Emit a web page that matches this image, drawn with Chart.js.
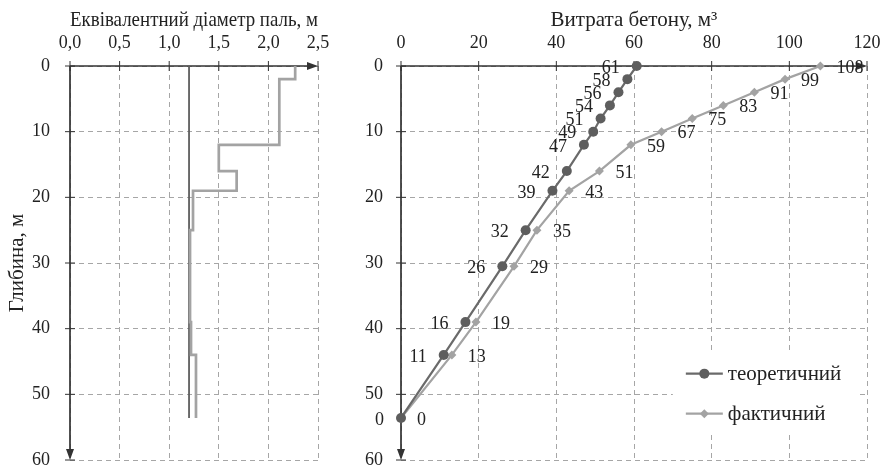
<!DOCTYPE html>
<html>
<head>
<meta charset="utf-8">
<script src="https://cdn.jsdelivr.net/npm/chart.js@4.4.1/dist/chart.umd.min.js"></script>
<style>
  body { margin: 0; background: #fff; }
  #wrap { position: relative; width: 885px; height: 466px; background: #fff; }
  .box { position: absolute; top: 0; height: 466px; }
</style>
</head>
<body>
<div id="wrap">
  <div class="box" style="left:0;width:345px"><canvas id="diamChart"></canvas></div>
  <div class="box" style="left:345px;width:540px"><canvas id="concreteChart"></canvas></div>
</div>
<script>
// left panel: equivalent pile diameter by depth (step profile)
const diamTopDepths = [0, 2, 12, 16, 19, 25, 39, 44];
const diamActual = [2.27, 2.11, 1.5, 1.68, 1.24, 1.21, 1.22, 1.27];
const diamTheoretical = 1.2;
const pileBottom = 53.6;

// right panel: concrete consumption by depth
const depths = [0, 2, 4, 6, 8, 10, 12, 16, 19, 25, 30.5, 39, 44, 53.6];
const theoretical = [60.7, 58.3, 56, 53.8, 51.4, 49.5, 47.1, 42.7, 39, 32.1, 26.1, 16.6, 11, 0];
const actual = [108, 98.9, 91, 83, 75, 67.1, 59.2, 51.1, 43.3, 35, 29.1, 19.3, 13.1, 0];
const theoreticalLabels = [61, 58, 56, 54, 51, 49, 47, 42, 39, 32, 26, 16, 11, 0];
const actualLabels = [108, 99, 91, 83, 75, 67, 59, 51, 43, 35, 29, 19, 13, 0];
const seriesNames = ["теоретичний", "фактичний"];

const FONT = "'Liberation Serif', 'Times New Roman', serif";
const DARK = "#5e5e5e";
const LIGHT = "#a3a3a3";
const GRID = "#a6a6a6";

Chart.defaults.font.family = FONT;
Chart.defaults.font.size = 18;
Chart.defaults.color = "#222";

// axis lines through zero with arrowheads and crossing tick marks
const axisArrows = {
  id: "axisArrows",
  beforeDatasetsDraw(chart) {
    const { ctx, chartArea: a, scales: { x, y } } = chart;
    const x0 = x.getPixelForValue(0);
    const y0 = y.getPixelForValue(0);
    ctx.save();
    ctx.strokeStyle = "#333";
    ctx.fillStyle = "#333";
    ctx.lineWidth = 1;
    ctx.beginPath();
    x.ticks.forEach(t => {
      const px = x.getPixelForValue(t.value);
      ctx.moveTo(px, y0 - 5);
      ctx.lineTo(px, y0 + 5);
    });
    y.ticks.forEach(t => {
      const py = y.getPixelForValue(t.value);
      ctx.moveTo(x0 - 5, py);
      ctx.lineTo(x0 + 5, py);
    });
    ctx.stroke();
    ctx.lineWidth = 1.7;
    ctx.beginPath();
    ctx.moveTo(x0, y0);
    ctx.lineTo(a.right - 6, y0);
    ctx.moveTo(x0, y0);
    ctx.lineTo(x0, a.bottom - 6);
    ctx.stroke();
    ctx.beginPath();
    ctx.moveTo(a.right, y0);
    ctx.lineTo(a.right - 11, y0 - 4);
    ctx.lineTo(a.right - 11, y0 + 4);
    ctx.closePath();
    ctx.moveTo(x0, a.bottom);
    ctx.lineTo(x0 - 4, a.bottom - 11);
    ctx.lineTo(x0 + 4, a.bottom - 11);
    ctx.closePath();
    ctx.fill();
    ctx.restore();
  }
};

// value labels next to the points
const pointLabels = {
  id: "pointLabels",
  afterDatasetsDraw(chart) {
    const { ctx } = chart;
    ctx.save();
    ctx.font = "18px " + FONT;
    ctx.fillStyle = "#222";
    ctx.textBaseline = "middle";
    chart.data.datasets.forEach((ds, i) => {
      if (!ds.valueLabels) return;
      const meta = chart.getDatasetMeta(i);
      ctx.textAlign = ds.labelSide === "left" ? "right" : "left";
      meta.data.forEach((pt, j) => {
        const dx = ds.labelSide === "left" ? -17 : 16;
        ctx.fillText(ds.valueLabels[j], pt.x + dx, pt.y + 2);
      });
    });
    ctx.restore();
  }
};

// legend box inside the plot, lower right
const innerLegend = {
  id: "innerLegend",
  afterDraw(chart) {
    const { ctx } = chart;
    const x = chart.scales.x;
    const y = chart.scales.y;
    const left = x.getPixelForValue(70);
    const top = y.getPixelForValue(43.5);
    const bottom = y.getPixelForValue(56);
    ctx.save();
    ctx.fillStyle = "#fff";
    ctx.fillRect(left, top, x.right - 8 - left, bottom - top);
    ctx.font = "21px " + FONT;
    ctx.textBaseline = "middle";
    ctx.textAlign = "left";
    chart.data.datasets.forEach((ds, i) => {
      const cy = top + 22 + i * 40;
      const lx = left + 13;
      ctx.strokeStyle = ds.borderColor;
      ctx.lineWidth = ds.borderWidth;
      ctx.beginPath();
      ctx.moveTo(lx, cy);
      ctx.lineTo(lx + 37, cy);
      ctx.stroke();
      ctx.fillStyle = ds.pointBackgroundColor;
      Chart.helpers.drawPoint(ctx, {
        pointStyle: ds.pointStyle, radius: ds.pointRadius, borderWidth: 0, rotation: 0
      }, lx + 18.5, cy);
      ctx.fillStyle = "#222";
      ctx.fillText(ds.label, lx + 42, cy + 1);
    });
    ctx.restore();
  }
};

function fixedWidth(w) {
  return s => { s.width = w; s.paddingTop = 0; s.paddingBottom = 0; };
}
function fixedHeight(h) {
  return s => { s.height = h; s.paddingLeft = 0; s.paddingRight = 0; };
}

function stepPoints() {
  const pts = diamTopDepths.map((d, i) => ({ x: diamActual[i], y: d }));
  pts.push({ x: diamActual[diamActual.length - 1], y: pileBottom });
  return pts;
}

const titleFont = { size: 21 };

new Chart(document.getElementById("diamChart"), {
  type: "scatter",
  data: {
    datasets: [{
      label: "фактичний",
      data: stepPoints(),
      showLine: true,
      stepped: "after",
      borderColor: LIGHT,
      borderWidth: 2.7,
      pointRadius: 0,
      clip: false
    }, {
      label: "теоретичний",
      data: [{ x: diamTheoretical, y: 0 }, { x: diamTheoretical, y: pileBottom }],
      showLine: true,
      borderColor: DARK,
      borderWidth: 1.8,
      pointRadius: 0,
      clip: false
    }]
  },
  options: {
    responsive: true,
    maintainAspectRatio: false,
    animation: false,
    layout: { padding: { left: 0, right: 27, top: 0, bottom: 6 } },
    plugins: { legend: { display: false }, tooltip: { enabled: false } },
    scales: {
      x: {
        type: "linear",
        position: "top",
        min: 0,
        max: 2.5,
        afterFit: fixedHeight(66),
        ticks: { stepSize: 0.5, padding: 12, callback: v => v.toFixed(1).replace(".", ",") },
        grid: { color: GRID, drawTicks: false },
        border: { display: false, dash: [5, 4] },
        title: { display: true, text: "Еквівалентний діаметр паль, м", font: titleFont, padding: { top: 8 } }
      },
      y: {
        type: "linear",
        reverse: true,
        min: 0,
        max: 60,
        afterFit: fixedWidth(70),
        ticks: { stepSize: 10, padding: 20 },
        grid: { color: GRID, drawTicks: false },
        border: { display: false, dash: [5, 4] },
        title: { display: true, text: "Глибина, м", font: titleFont, padding: { top: 5 } }
      }
    }
  },
  plugins: [axisArrows]
});

new Chart(document.getElementById("concreteChart"), {
  type: "scatter",
  data: {
    datasets: [{
      label: seriesNames[0],
      data: theoretical.map((v, i) => ({ x: v, y: depths[i] })),
      valueLabels: theoreticalLabels,
      labelSide: "left",
      showLine: true,
      borderColor: "#6a6a6a",
      borderWidth: 2.2,
      pointStyle: "circle",
      pointRadius: 5,
      pointBackgroundColor: DARK,
      pointBorderWidth: 0,
      clip: false
    }, {
      label: seriesNames[1],
      data: actual.map((v, i) => ({ x: v, y: depths[i] })),
      valueLabels: actualLabels,
      labelSide: "right",
      showLine: true,
      borderColor: LIGHT,
      borderWidth: 2.2,
      pointStyle: "rectRot",
      pointRadius: 4.5,
      pointBackgroundColor: LIGHT,
      pointBorderWidth: 0,
      clip: false
    }]
  },
  options: {
    responsive: true,
    maintainAspectRatio: false,
    animation: false,
    layout: { padding: { left: 0, right: 18, top: 0, bottom: 6 } },
    plugins: { legend: { display: false }, tooltip: { enabled: false } },
    scales: {
      x: {
        type: "linear",
        position: "top",
        min: 0,
        max: 120,
        afterFit: fixedHeight(66),
        ticks: { stepSize: 20, padding: 12 },
        grid: { color: GRID, drawTicks: false },
        border: { display: false, dash: [5, 4] },
        title: { display: true, text: "Витрата бетону, м³", font: titleFont, padding: { top: 8 } }
      },
      y: {
        type: "linear",
        reverse: true,
        min: 0,
        max: 60,
        afterFit: fixedWidth(56),
        ticks: { stepSize: 10, padding: 18 },
        grid: { color: GRID, drawTicks: false },
        border: { display: false, dash: [5, 4] }
      }
    }
  },
  plugins: [axisArrows, pointLabels, innerLegend]
});
</script>
</body>
</html>
